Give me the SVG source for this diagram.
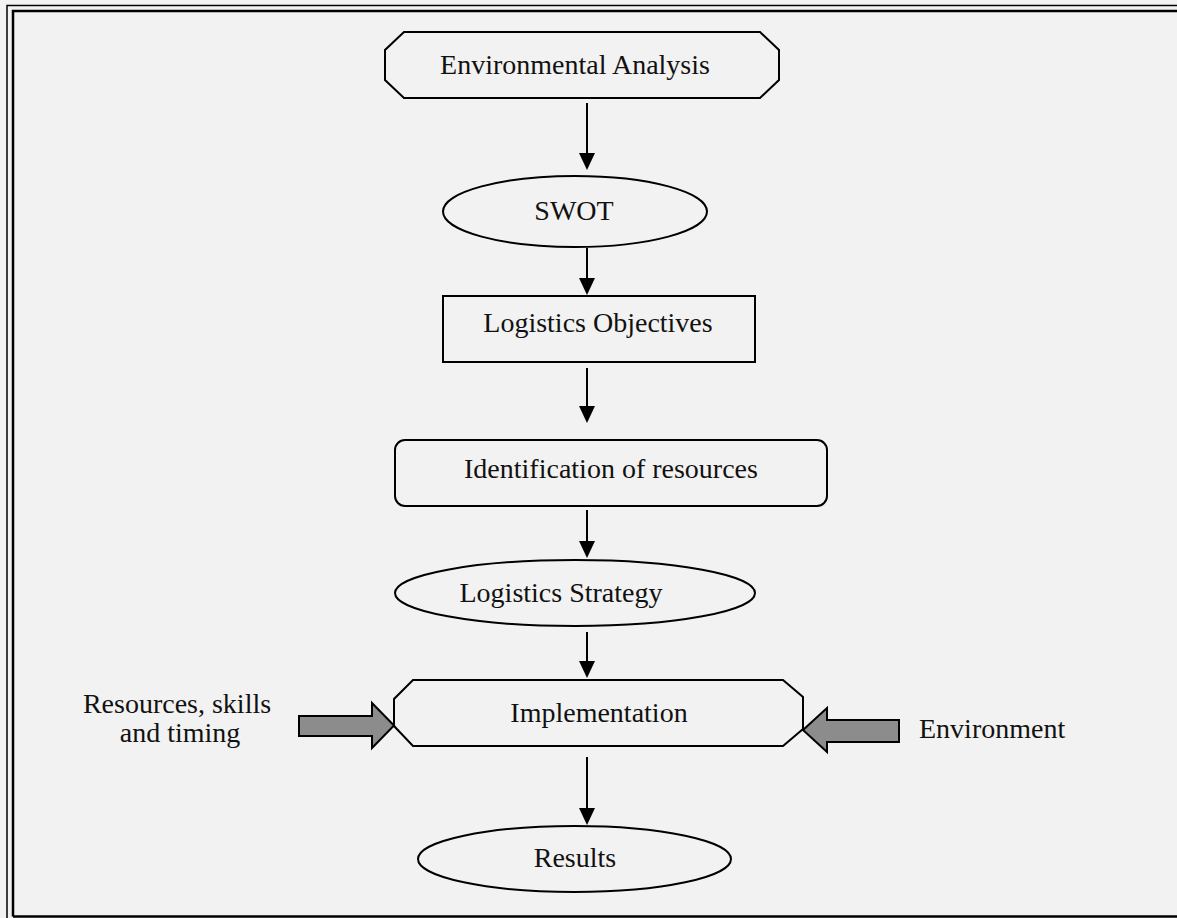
<svg xmlns="http://www.w3.org/2000/svg" width="1177" height="918" viewBox="0 0 1177 918">
<style>
.shape{fill:none;stroke:#000;stroke-width:2}
.lbl{font-family:"Liberation Serif","Times New Roman",serif;font-size:28px;fill:#111;text-anchor:middle}
.conn{stroke:#000;stroke-width:2;fill:none}
.blk{fill:#8c8c8c;stroke:#000;stroke-width:2;stroke-linejoin:miter}
</style>
<defs>
<marker id="ah" markerWidth="16" markerHeight="18" refX="8" refY="17" orient="0" markerUnits="userSpaceOnUse">
<path d="M0,0 L16,0 L8,17 Z" fill="#000"/>
</marker>
</defs>
<rect x="0" y="0" width="1177" height="918" fill="#f3f2f2"/>
<g id="frame" fill="none" stroke="#000">
<path d="M7,918 V5.5 H1177" stroke-width="1.5"/>
<path d="M13,916.5 V11 H1177" stroke-width="2.5"/>
<path d="M13,916.5 H1177" stroke-width="2.5"/>
</g>
<g id="connectors">
<path class="conn" d="M587,103 V153"/><path d="M579,153 L595,153 L587,170 Z"/>
<path class="conn" d="M587,248 V278"/><path d="M579,278 L595,278 L587,295 Z"/>
<path class="conn" d="M587,368 V406"/><path d="M579,406 L595,406 L587,423 Z"/>
<path class="conn" d="M587,510 V541"/><path d="M579,541 L595,541 L587,558 Z"/>
<path class="conn" d="M587,632 V661"/><path d="M579,661 L595,661 L587,678 Z"/>
<path class="conn" d="M587,757 V808"/><path d="M579,808 L595,808 L587,825 Z"/>
<polygon class="blk" points="299,716 372,716 372,703 394,725.5 372,748 372,736 299,736"/>
<polygon class="blk" points="803,730 827,708 827,720 899,720 899,742 827,742 827,752"/>
</g>
<g id="env-analysis">
<polygon class="shape" points="404,32 760,32 779,50 779,80 760,98 404,98 385,80 385,50"/>
<text class="lbl" x="575" y="74">Environmental Analysis</text>
</g>
<g id="swot">
<ellipse class="shape" cx="575" cy="211.5" rx="132" ry="35.5"/>
<text class="lbl" x="574" y="220">SWOT</text>
</g>
<g id="log-objectives">
<rect class="shape" x="443" y="296" width="312" height="66"/>
<text class="lbl" x="598" y="332">Logistics Objectives</text>
</g>
<g id="identification">
<rect class="shape" x="395" y="440" width="432" height="66" rx="10" ry="10"/>
<text class="lbl" x="611" y="478">Identification of resources</text>
</g>
<g id="log-strategy">
<ellipse class="shape" cx="575" cy="593" rx="180" ry="33"/>
<text class="lbl" x="561" y="602">Logistics Strategy</text>
</g>
<g id="implementation">
<polygon class="shape" points="413,680 783,680 803,697 803,729 783,746 413,746 394,726 394,699"/>
<text class="lbl" x="599" y="722">Implementation</text>
</g>
<g id="results">
<ellipse class="shape" cx="574.5" cy="859" rx="156.5" ry="33"/>
<text class="lbl" x="575" y="867">Results</text>
</g>
<g id="resources-label">
<text class="lbl" x="177" y="713">Resources, skills</text>
<text class="lbl" x="180" y="742">and timing</text>
</g>
<g id="environment-label">
<text class="lbl" x="919" y="738" style="text-anchor:start">Environment</text>
</g>
</svg>
